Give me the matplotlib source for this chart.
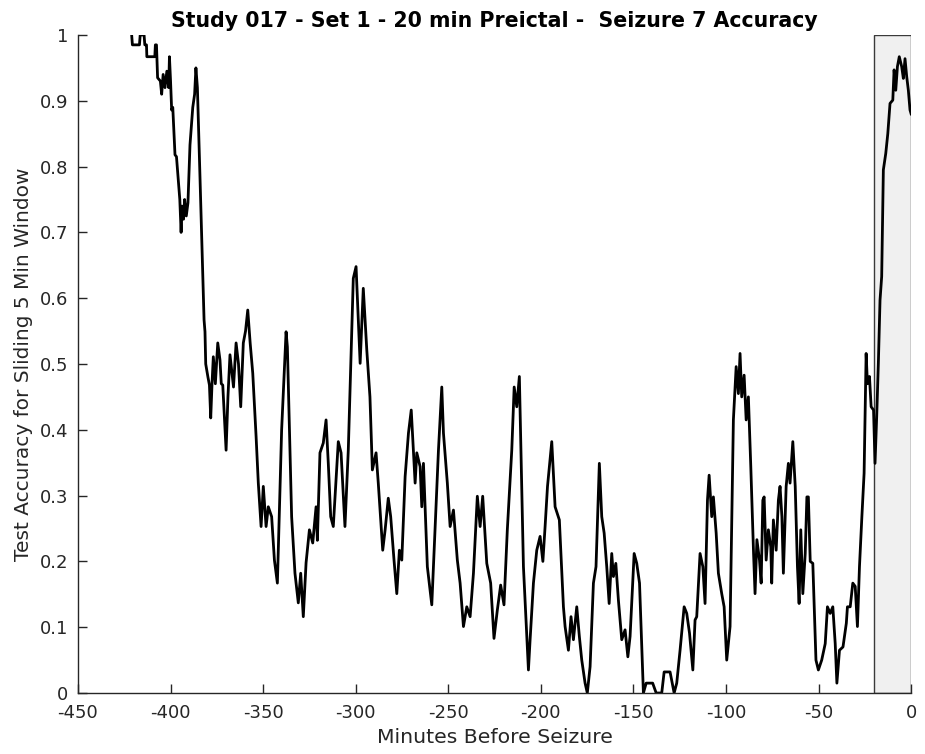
import matplotlib
matplotlib.use("Agg")
import matplotlib.pyplot as plt
from matplotlib.patches import Rectangle

plt.rcParams["axes.unicode_minus"] = False

# minutes before seizure and sliding-window accuracy
minutes = [
    -421.0, -420.6, -416.8, -416.4, -414.3, -413.9, -413.0, -412.8, -408.5, -408.2,
    -407.6, -407.0, -405.5, -404.8, -404.0, -403.0, -402.0, -401.0, -400.6, -400.0,
    -399.4, -398.8, -397.6, -396.8, -395.8, -395.0, -394.3, -393.8, -393.0, -392.4,
    -391.5, -390.6, -389.5, -388.0, -387.0, -386.3, -385.5, -384.1, -382.6, -381.9,
    -381.4, -381.0, -379.8, -379.0, -378.3, -377.6, -376.9, -375.8, -374.5, -373.3,
    -372.6, -371.8, -370.0, -369.0, -367.9, -366.0, -364.6, -363.3, -362.1, -360.7,
    -359.5, -358.3, -357.0, -355.6, -353.8, -352.6, -351.1, -349.9, -348.4, -347.2,
    -345.4, -343.9, -342.3, -340.0, -337.6, -336.9, -334.6, -332.8, -331.0, -329.7,
    -328.3, -326.8, -325.0, -323.2, -321.4, -320.7, -319.3, -317.5, -316.0, -314.8,
    -313.5, -312.1, -309.4, -307.9, -305.8, -304.0, -301.3, -299.8, -297.6, -295.9,
    -294.0, -292.3, -291.0, -289.0, -287.8, -285.4, -284.1, -282.4, -281.1, -279.3,
    -277.8, -276.4, -275.1, -273.3, -271.5, -270.0, -267.9, -267.0, -265.2, -264.3,
    -263.4, -261.3, -258.9, -257.1, -255.3, -253.5, -252.6, -250.5, -249.0, -247.2,
    -245.1, -243.6, -241.8, -240.0, -238.2, -236.4, -234.3, -232.8, -231.4, -229.2,
    -227.1, -225.3, -223.5, -221.7, -219.9, -218.1, -215.7, -214.4, -213.0, -211.6,
    -209.4, -206.7, -205.8, -204.0, -202.2, -200.4, -198.9, -197.7, -196.4, -194.1,
    -192.3, -190.0, -187.8, -186.9, -185.1, -183.7, -182.4, -180.6, -179.2, -177.9,
    -176.1, -174.9, -173.4, -171.6, -170.2, -168.4, -167.1, -165.8, -164.4, -163.1,
    -161.7, -160.8, -159.5, -158.1, -156.3, -154.5, -153.0, -151.8, -149.6, -148.2,
    -146.7, -144.6, -143.1, -139.6, -137.7, -134.7, -133.4, -130.2, -128.0, -126.6,
    -124.8, -122.6, -121.2, -119.7, -117.9, -116.7, -115.8, -114.0, -112.5, -111.3,
    -110.0, -109.1, -107.7, -106.8, -105.3, -104.1, -102.3, -101.0, -99.6, -97.8,
    -96.0, -94.5, -93.3, -92.4, -91.5, -90.2, -89.1, -87.9, -86.6, -85.1,
    -84.3, -83.3, -81.9, -81.0, -80.1, -79.4, -78.3, -77.1, -75.8, -75.3,
    -74.4, -72.9, -71.7, -70.8, -69.8, -69.0, -67.5, -66.3, -65.4, -63.9,
    -62.6, -61.4, -60.5, -59.6, -58.5, -57.2, -56.3, -55.5, -54.5, -53.1,
    -51.4, -50.1, -48.3, -46.4, -45.2, -43.7, -42.3, -41.0, -40.1, -38.7,
    -36.8, -35.0, -34.4, -32.9, -31.5, -30.2, -29.0, -27.9, -26.6, -25.4,
    -24.3, -23.6, -22.5, -21.6, -20.3, -19.5, -18.6, -17.7, -16.8, -15.9,
    -15.0, -13.7, -12.6, -11.4, -9.9, -9.2, -8.3, -7.4, -6.4, -5.1,
    -4.2, -3.3, -2.4, -1.5, -0.6, 0.0,
]
accuracy = [
    1.000, 0.985, 0.985, 1.000, 1.000, 0.985, 0.985, 0.967, 0.967, 0.985,
    0.985, 0.935, 0.930, 0.910, 0.940, 0.920, 0.945, 0.920, 0.967, 0.930,
    0.886, 0.890, 0.818, 0.815, 0.780, 0.750, 0.700, 0.740, 0.720, 0.750,
    0.725, 0.745, 0.833, 0.890, 0.910, 0.950, 0.920, 0.784, 0.632, 0.567,
    0.549, 0.500, 0.480, 0.468, 0.418, 0.470, 0.511, 0.470, 0.532, 0.506,
    0.470, 0.468, 0.369, 0.450, 0.514, 0.465, 0.532, 0.500, 0.435, 0.532,
    0.550, 0.582, 0.532, 0.486, 0.390, 0.319, 0.253, 0.314, 0.253, 0.283,
    0.268, 0.202, 0.167, 0.400, 0.549, 0.526, 0.268, 0.182, 0.137, 0.182,
    0.116, 0.198, 0.248, 0.228, 0.283, 0.232, 0.365, 0.380, 0.415, 0.349,
    0.268, 0.253, 0.382, 0.365, 0.253, 0.369, 0.630, 0.648, 0.501, 0.615,
    0.521, 0.450, 0.339, 0.365, 0.319, 0.217, 0.248, 0.296, 0.268, 0.202,
    0.151, 0.217, 0.202, 0.329, 0.395, 0.430, 0.319, 0.365, 0.344, 0.283,
    0.349, 0.192, 0.134, 0.253, 0.369, 0.465, 0.395, 0.319, 0.253, 0.278,
    0.202, 0.167, 0.101, 0.131, 0.116, 0.182, 0.299, 0.253, 0.299, 0.197,
    0.167, 0.083, 0.126, 0.164, 0.134, 0.248, 0.369, 0.465, 0.435, 0.481,
    0.192, 0.035, 0.081, 0.167, 0.217, 0.238, 0.200, 0.253, 0.314, 0.382,
    0.283, 0.263, 0.131, 0.101, 0.065, 0.116, 0.081, 0.131, 0.086, 0.050,
    0.015, 0.000, 0.040, 0.167, 0.192, 0.349, 0.268, 0.243, 0.192, 0.136,
    0.212, 0.177, 0.197, 0.141, 0.081, 0.096, 0.055, 0.086, 0.212, 0.197,
    0.167, 0.000, 0.015, 0.015, 0.000, 0.000, 0.032, 0.032, 0.000, 0.015,
    0.065, 0.131, 0.121, 0.091, 0.035, 0.111, 0.116, 0.212, 0.192, 0.136,
    0.293, 0.331, 0.268, 0.298, 0.243, 0.182, 0.151, 0.131, 0.050, 0.101,
    0.415, 0.496, 0.455, 0.516, 0.450, 0.483, 0.415, 0.450, 0.344, 0.212,
    0.151, 0.233, 0.202, 0.167, 0.293, 0.298, 0.202, 0.248, 0.222, 0.167,
    0.263, 0.217, 0.293, 0.314, 0.268, 0.182, 0.314, 0.349, 0.319, 0.382,
    0.314, 0.192, 0.136, 0.248, 0.151, 0.212, 0.298, 0.298, 0.200, 0.197,
    0.050, 0.035, 0.050, 0.075, 0.131, 0.121, 0.131, 0.075, 0.015, 0.065,
    0.070, 0.106, 0.131, 0.131, 0.167, 0.162, 0.101, 0.192, 0.268, 0.334,
    0.516, 0.470, 0.481, 0.435, 0.430, 0.349, 0.420, 0.501, 0.597, 0.633,
    0.795, 0.820, 0.850, 0.896, 0.901, 0.947, 0.916, 0.952, 0.967, 0.952,
    0.934, 0.964, 0.937, 0.916, 0.886, 0.880,
]
preictal_minutes = 20

axis_color = "#262626"

fig = plt.figure(figsize=(9.25, 7.54), dpi=100)
ax = fig.add_axes([0.0843, 0.0809, 0.9007, 0.8727])

ax.add_patch(Rectangle((-preictal_minutes, 0), preictal_minutes, 1,
                       facecolor="#f0f0f0", edgecolor="#3a3a3a", linewidth=1.0, zorder=1))
ax.plot(minutes, accuracy, color="black", linewidth=2.0, zorder=2)

ax.set_xlim(-450, 0)
ax.set_ylim(0, 1)
ax.set_xticks(range(-450, 1, 50))
ax.set_yticks([i / 10 for i in range(11)])
ax.set_yticklabels(["0", "0.1", "0.2", "0.3", "0.4", "0.5", "0.6", "0.7", "0.8", "0.9", "1"])

ax.spines["top"].set_visible(False)
ax.spines["right"].set_visible(False)
for side in ("left", "bottom"):
    ax.spines[side].set_color(axis_color)
    ax.spines[side].set_linewidth(1.0)
ax.tick_params(direction="in", length=6.5, width=1.0, color=axis_color,
               labelcolor=axis_color, labelsize=13)
ax.tick_params(axis="x", pad=8)
ax.tick_params(axis="y", pad=7)

ax.set_xlabel("Minutes Before Seizure", fontsize=14.7, color=axis_color, labelpad=4)
ax.set_ylabel("Test Accuracy for Sliding 5 Min Window", fontsize=14.5, color=axis_color, labelpad=5)
ax.set_title("Study 017 - Set 1 - 20 min Preictal -  Seizure 7 Accuracy",
             fontsize=14.8, fontweight="bold", pad=6)

fig.savefig("out.png", dpi=100)
plt.close(fig)
